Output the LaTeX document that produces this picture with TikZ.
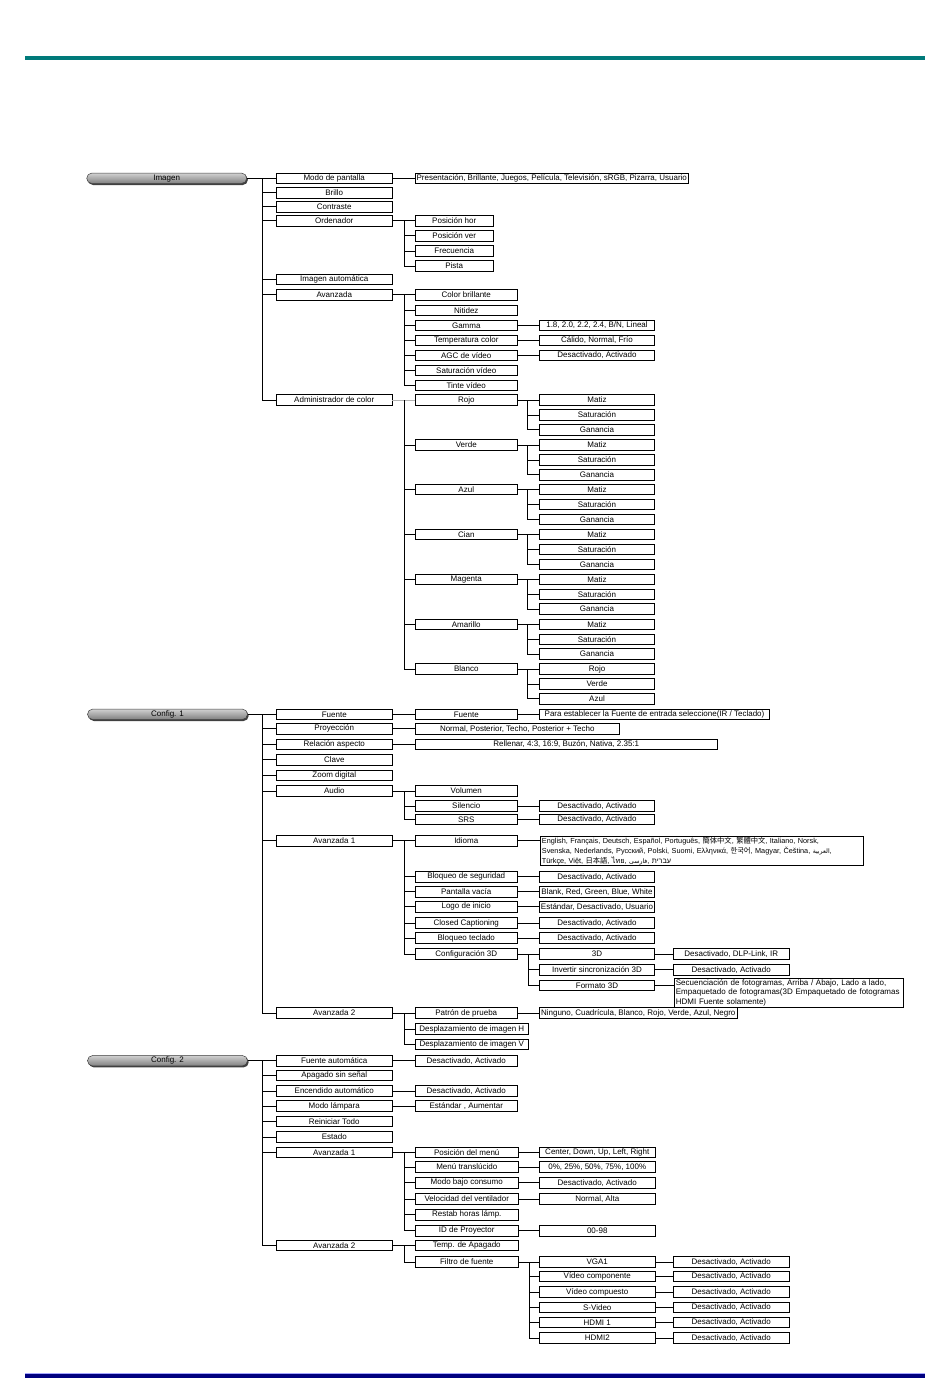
\documentclass[tikz,border=0pt]{standalone}
\usepackage{fontspec}
\setmainfont{Liberation Sans}
\newfontfamily\cjkf{Noto Sans CJK SC}
\newfontfamily\thaif[Script=Thai]{Loma}
\newfontfamily\arabf[Script=Arabic,Scale=0.85]{DejaVu Sans}
\newfontfamily\hebf[Script=Hebrew]{Liberation Sans}
\TeXXeTstate=1
\usetikzlibrary{shapes.misc,shadows}
\definecolor{tealbar}{RGB}{0,122,122}
\definecolor{navybar}{RGB}{0,0,128}
\newcommand{\dfs}{\fontsize{8bp}{9.6bp}\selectfont}
\newcommand{\sfs}{\fontsize{7.3bp}{10bp}\selectfont}
\newcommand{\bxn}[5]{\node[bx, minimum width={(#3-#2)*1.00375}] (#1) at ({(#2+#3)/2},#4) {#5};}
\newcommand{\brn}[3]{\coordinate (T) at (#2,0);
  \draw[ln] (#1.east) -- (T |- #1.east);
  \foreach \chn in {#3} {\draw[ln] (T |- #1.east) |- (\chn.west);}}
\newcommand{\lnk}[2]{\draw[ln] (#1.east) -- (#2.west);}
\begin{document}
\begin{tikzpicture}[x=1bp,y=-1bp,
  bx/.style={draw, line width=0.8bp, fill=white, minimum height=10.5bp, inner sep=0pt, font=\dfs},
  mbx/.style={draw, line width=0.8bp, fill=white, inner xsep=2bp, inner ysep=1.2bp, align=left, font=\dfs, anchor=north west},
  ln/.style={line width=0.8bp, black},
  pill/.style={rounded rectangle, draw=black!75, line width=0.5bp, minimum width=160bp, minimum height=10.5bp, inner sep=0pt,
    top color=black!18, bottom color=black!50, font=\dfs,
    drop shadow={shadow xshift=1.2bp, shadow yshift=-1.5bp, fill=black!75, opacity=1}}]
\fill[white] (0,0) rectangle (950,1397);
\useasboundingbox (0,0) rectangle (950,1397);
\fill[tealbar] (25,56) rectangle (925,60);
\fill[navybar] (25,1373.5) rectangle (925,1378);
\draw[blue!35, line width=0.7bp] (25,1373.7) -- (925,1373.7);

% ===================== Imagen
\node[pill] (img) at (166.7,178.3) {Imagen};
\bxn{modo}{276.5}{392}{178.3}{Modo de pantalla}
\bxn{modov}{415.5}{688}{178.3}{Presentación, Brillante, Juegos, Película, Televisión, sRGB, Pizarra, Usuario}
\bxn{brillo}{276.5}{392}{192.7}{Brillo}
\bxn{contr}{276.5}{392}{206.7}{Contraste}
\bxn{orden}{276.5}{392}{220.7}{Ordenador}
\bxn{phor}{415.5}{493}{220.7}{Posición hor}
\bxn{pver}{415.5}{493}{235.7}{Posición ver}
\bxn{frec}{415.5}{493}{251}{Frecuencia}
\bxn{pista}{415.5}{493}{266}{Pista}
\bxn{iauto}{276.5}{392}{279.3}{Imagen automática}
\bxn{avz}{276.5}{392}{294.7}{Avanzada}
\bxn{cbr}{415.5}{517}{294.7}{Color brillante}
\bxn{nit}{415.5}{517}{310.3}{Nitidez}
\bxn{gam}{415.5}{517}{325.5}{Gamma}
\bxn{gamv}{539.5}{654.5}{325.5}{1.8, 2.0, 2.2, 2.4, B/N, Lineal}
\bxn{temp}{415.5}{517}{340.5}{Temperatura color}
\bxn{tempv}{539.5}{654.5}{340.5}{Cálido, Normal, Frío}
\bxn{agc}{415.5}{517}{355.3}{AGC de vídeo}
\bxn{agcv}{539.5}{654.5}{355.3}{Desactivado, Activado}
\bxn{satv}{415.5}{517}{370.3}{Saturación vídeo}
\bxn{tinte}{415.5}{517}{385.3}{Tinte vídeo}
\bxn{admin}{276.5}{392}{400}{Administrador de color}

\brn{img}{262}{modo,brillo,contr,orden,iauto,avz,admin}
\lnk{modo}{modov}
\brn{orden}{404}{phor,pver,frec,pista}
\brn{avz}{404}{cbr,nit,gam,temp,agc,satv,tinte}
\lnk{gam}{gamv}
\lnk{temp}{tempv}
\lnk{agc}{agcv}

\foreach \n/\lab/\y in {rojo/Rojo/400, verde/Verde/445, azul/Azul/489.5, cian/Cian/534.5, magenta/Magenta/579.3, amarillo/Amarillo/624.3} {
  \pgfmathsetmacro\yb{\y+15}
  \pgfmathsetmacro\yc{\y+29.7}
  \bxn{\n}{415.5}{517}{\y}{\lab}
  \bxn{\n1}{539.5}{654.5}{\y}{Matiz}
  \bxn{\n2}{539.5}{654.5}{\yb}{Saturación}
  \bxn{\n3}{539.5}{654.5}{\yc}{Ganancia}
  \brn{\n}{527.5}{\n1,\n2,\n3}
}
\bxn{blanco}{415.5}{517}{669}{Blanco}
\bxn{blanco1}{539.5}{654.5}{669}{Rojo}
\bxn{blanco2}{539.5}{654.5}{684}{Verde}
\bxn{blanco3}{539.5}{654.5}{698.7}{Azul}
\brn{blanco}{527.5}{blanco1,blanco2,blanco3}

\draw[ln, black!30] (admin.east) -- (rojo.west);
\coordinate (TC) at (404,400);
\foreach \chn in {verde,azul,cian,magenta,amarillo,blanco} {\draw[ln] (TC) |- (\chn.west);}

% ===================== Config. 1
\node[pill] (cfa) at (167.5,714.3) {Config. 1};
\bxn{fte}{276.5}{392}{714.3}{Fuente}
\bxn{fte2}{415.5}{517}{714.3}{Fuente}
\bxn{fte2v}{539.5}{769.5}{714.3}{Para establecer la Fuente de entrada seleccione(IR / Teclado)}
\bxn{proy}{276.5}{392}{728.8}{Proyección}
\bxn{proyv}{415.5}{619}{728.8}{Normal, Posterior, Techo, Posterior + Techo}
\bxn{rel}{276.5}{392}{744.3}{Relación aspecto}
\bxn{relv}{415.5}{717}{744.3}{Rellenar, 4:3, 16:9, Buzón, Nativa, 2.35:1}
\bxn{clave}{276.5}{392}{759.7}{Clave}
\bxn{zoomd}{276.5}{392}{775.3}{Zoom digital}
\bxn{audio}{276.5}{392}{791}{Audio}
\bxn{vol}{415.5}{517}{791}{Volumen}
\bxn{sil}{415.5}{517}{806}{Silencio}
\bxn{silv}{539.5}{654.5}{806}{Desactivado, Activado}
\bxn{srs}{415.5}{517}{819.5}{SRS}
\bxn{srsv}{539.5}{654.5}{819.5}{Desactivado, Activado}
\bxn{avu}{276.5}{392}{840.7}{Avanzada 1}
\bxn{idi}{415.5}{517}{840.7}{Idioma}
\node[mbx, text width=319bp, font=\sfs, inner ysep=0.8bp] (idiv) at (539.5,835.7) {English, Français, Deutsch, Español, Português, {\cjkf 簡体中文}, {\cjkf 繁體中文}, Italiano, Norsk,\\
Svenska, Nederlands, Русский, Polski, Suomi, Ελληνικά, {\cjkf 한국어}, Magyar, Čeština, {\arabf\beginR العربية\endR},\\
Türkçe, Việt, {\cjkf 日本語}, {\thaif ไทย}, {\arabf\beginR فارسی\endR}, {\hebf\beginR עברית\endR}};
\bxn{bseg}{415.5}{517}{876.7}{Bloqueo de seguridad}
\bxn{bsegv}{539.5}{654.5}{876.7}{Desactivado, Activado}
\bxn{pvac}{415.5}{517}{891.7}{Pantalla vacía}
\bxn{pvacv}{539.5}{654.5}{891.7}{Blank, Red, Green, Blue, White}
\bxn{logo}{415.5}{517}{906.7}{Logo de inicio}
\bxn{logov}{539.5}{654.5}{906.7}{Estándar, Desactivado, Usuario}
\bxn{ccap}{415.5}{517}{923}{Closed Captioning}
\bxn{ccapv}{539.5}{654.5}{923}{Desactivado, Activado}
\bxn{btec}{415.5}{517}{938}{Bloqueo teclado}
\bxn{btecv}{539.5}{654.5}{938}{Desactivado, Activado}
\bxn{cfg3}{415.5}{517}{954}{Configuración 3D}
\bxn{tres}{539.5}{654.5}{954}{3D}
\bxn{tresv}{673.5}{789}{954}{Desactivado, DLP-Link, IR}
\bxn{inv}{539.5}{654.5}{969.7}{Invertir sincronización 3D}
\bxn{invv}{673.5}{789}{969.7}{Desactivado, Activado}
\bxn{fmt}{539.5}{654.5}{985.3}{Formato 3D}
\node[mbx, text width=225bp] (fmtv) at (673.5,977.7) {Secuenciación de fotogramas, Arriba / Abajo, Lado a lado,\\
Empaquetado de fotogramas(3D Empaquetado de fotogramas\\
HDMI Fuente solamente)};
\bxn{avd}{276.5}{392}{1013}{Avanzada 2}
\bxn{patr}{415.5}{517}{1013}{Patrón de prueba}
\bxn{patrv}{539.5}{737}{1013}{Ninguno, Cuadrícula, Blanco, Rojo, Verde, Azul, Negro}
\bxn{desh}{415.5}{528}{1029}{Desplazamiento de imagen H}
\bxn{desv}{415.5}{528}{1044.3}{Desplazamiento de imagen V}

\brn{cfa}{262}{fte,proy,rel,clave,zoomd,audio,avu,avd}
\lnk{fte}{fte2}
\lnk{fte2}{fte2v}
\lnk{proy}{proyv}
\lnk{rel}{relv}
\brn{audio}{404}{vol,sil,srs}
\lnk{sil}{silv}
\lnk{srs}{srsv}
\brn{avu}{404}{idi,bseg,pvac,logo,ccap,btec,cfg3}
\draw[ln] (idi.east) -- (idi.east -| idiv.west);
\lnk{bseg}{bsegv}
\lnk{pvac}{pvacv}
\lnk{logo}{logov}
\lnk{ccap}{ccapv}
\lnk{btec}{btecv}
\brn{cfg3}{528.5}{tres,inv,fmt}
\lnk{tres}{tresv}
\lnk{inv}{invv}
\draw[ln] (fmt.east) -- (fmt.east -| fmtv.west);
\brn{avd}{404}{patr,desh,desv}
\lnk{patr}{patrv}

% ===================== Config. 2
\node[pill] (cfb) at (167.5,1060.7) {Config. 2};
\bxn{fauto}{276.5}{392}{1060.7}{Fuente automática}
\bxn{fautov}{415.5}{517}{1060.7}{Desactivado, Activado}
\bxn{apag}{276.5}{392}{1075.5}{Apagado sin señal}
\bxn{enc}{276.5}{392}{1091}{Encendido automático}
\bxn{encv}{415.5}{517}{1091}{Desactivado, Activado}
\bxn{mlam}{276.5}{392}{1106}{Modo lámpara}
\bxn{mlamv}{415.5}{517}{1106}{Estándar , Aumentar}
\bxn{rein}{276.5}{392}{1121.3}{Reiniciar Todo}
\bxn{estado}{276.5}{392}{1137}{Estado}
\bxn{bua}{276.5}{392}{1152.3}{Avanzada 1}
\bxn{pmen}{415.5}{518}{1152.3}{Posición del menú}
\bxn{pmenv}{539.5}{655}{1152.3}{Center, Down, Up, Left, Right}
\bxn{mtr}{415.5}{518}{1167}{Menú translúcido}
\bxn{mtrv}{539.5}{655}{1167}{0\%, 25\%, 50\%, 75\%, 100\%}
\bxn{mbc}{415.5}{518}{1182.7}{Modo bajo consumo}
\bxn{mbcv}{539.5}{655}{1182.7}{Desactivado, Activado}
\bxn{vel}{415.5}{518}{1199}{Velocidad del ventilador}
\bxn{velv}{539.5}{655}{1199}{Normal, Alta}
\bxn{rest}{415.5}{518}{1214.7}{Restab horas lámp.}
\bxn{idp}{415.5}{518}{1230.7}{ID de Proyector}
\bxn{idpv}{539.5}{655}{1230.7}{00-98}
\bxn{bub}{276.5}{392}{1245.3}{Avanzada 2}
\bxn{tapa}{415.5}{518}{1245.3}{Temp. de Apagado}
\bxn{filt}{415.5}{518}{1262}{Filtro de fuente}
\foreach \n/\lab/\y in {vga/VGA1/1262, vcomp/Vídeo componente/1276.3, vcps/Vídeo compuesto/1292, svid/S-Video/1307.3, hdmia/HDMI 1/1322.3, hdmib/HDMI2/1338} {
  \bxn{\n}{539.5}{655}{\y}{\lab}
  \bxn{\n v}{673.5}{789}{\y}{Desactivado, Activado}
  \lnk{\n}{\n v}
}

\brn{cfb}{262}{fauto,apag,enc,mlam,rein,estado,bua,bub}
\lnk{fauto}{fautov}
\lnk{enc}{encv}
\lnk{mlam}{mlamv}
\brn{bua}{404}{pmen,mtr,mbc,vel,rest,idp}
\lnk{pmen}{pmenv}
\lnk{mtr}{mtrv}
\lnk{mbc}{mbcv}
\lnk{vel}{velv}
\lnk{idp}{idpv}
\brn{bub}{404}{tapa,filt}
\brn{filt}{529}{vga,vcomp,vcps,svid,hdmia,hdmib}
\end{tikzpicture}
\end{document}
